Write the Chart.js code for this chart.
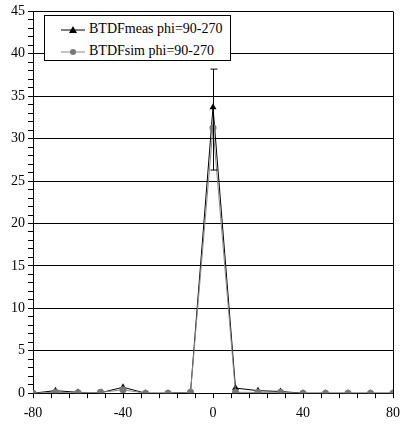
<!DOCTYPE html>
<html>
<head>
<meta charset="utf-8">
<script src="https://cdn.jsdelivr.net/npm/chart.js@4.4.0/dist/chart.umd.min.js"></script>
<style>
  body { margin: 0; background: #fff; }
  #wrap { position: relative; width: 401px; height: 427px; }
  #legend {
    position: absolute; left: 44px; top: 15px; width: 185px; height: 44px;
    background: #fff; border: 1px solid #000;
    font-family: "Liberation Serif", "Times New Roman", serif; font-size: 14px; color: #000;
  }
  #legend div { position: absolute; left: 16px; height: 16px; line-height: 16px; white-space: nowrap; }
  #legend svg { vertical-align: middle; margin-right: 4px; }
</style>
</head>
<body>
<div id="wrap">
  <canvas id="chart" width="401" height="427"></canvas>
  <div id="legend">
    <div style="top:5px"><svg width="24" height="10"><line x1="0" y1="5" x2="24" y2="5" stroke="#000" stroke-width="1"/><polygon points="12,1 16,8 8,8" fill="#000"/></svg>BTDFmeas phi=90-270</div>
    <div style="top:27px"><svg width="24" height="10"><line x1="0" y1="5" x2="24" y2="5" stroke="#888" stroke-width="1"/><circle cx="12" cy="5" r="3" fill="#777"/></svg>BTDFsim phi=90-270</div>
  </div>
</div>
<script>
// angles
var angles = [-80, -70, -60, -50, -40, -30, -20, -10, 0, 10, 20, 30, 40, 50, 60, 70, 80];
// BTDF measured / simulated
var measValues = [0, 0.3, 0.1, 0.05, 0.7, 0, 0, 0.1, 33.7, 0.6, 0.3, 0.2, 0, 0, 0, 0, 0];
var simValues = [0, 0.1, 0.05, 0.1, 0.4, 0, 0, 0.1, 31.3, 0.1, 0.1, 0.1, 0, 0, 0, 0, 0];
// error bar on the measured peak
var errAngle = [0];
var errLow = [26.3];
var errHigh = [38.2];

var serif = "'Liberation Serif', 'Times New Roman', serif";

function toXY(vals) {
  return angles.map(function (a, i) { return { x: a, y: vals[i] }; });
}

var errorBars = {
  id: 'errorBars',
  afterDatasetsDraw: function (chart) {
    var ctx = chart.ctx, xs = chart.scales.x, ys = chart.scales.y;
    ctx.save();
    ctx.strokeStyle = '#000';
    ctx.lineWidth = 1;
    for (var i = 0; i < errAngle.length; i++) {
      var px = Math.round(xs.getPixelForValue(errAngle[i])) + 0.5;
      var lo = ys.getPixelForValue(errLow[i]);
      var hi = ys.getPixelForValue(errHigh[i]);
      ctx.beginPath();
      ctx.moveTo(px, lo); ctx.lineTo(px, hi);
      ctx.moveTo(px - 3, hi); ctx.lineTo(px + 4, hi);
      ctx.moveTo(px - 3, lo); ctx.lineTo(px + 4, lo);
      ctx.stroke();
    }
    ctx.restore();
  }
};

var plotBorder = {
  id: 'plotBorder',
  beforeDatasetsDraw: function (chart) {
    var a = chart.chartArea, ctx = chart.ctx;
    ctx.save();
    ctx.strokeStyle = '#000';
    ctx.lineWidth = 1;
    ctx.beginPath();
    ctx.moveTo(Math.round(a.right) + 0.5, a.top);
    ctx.lineTo(Math.round(a.right) + 0.5, a.bottom);
    ctx.stroke();
    ctx.restore();
  }
};

new Chart(document.getElementById('chart'), {
  type: 'line',
  data: {
    datasets: [{
      label: 'BTDFsim phi=90-270',
      data: toXY(simValues),
      borderColor: '#888',
      backgroundColor: '#777',
      borderWidth: 1,
      pointStyle: 'circle',
      pointRadius: 3.5,
      pointBorderWidth: 0,
      fill: false
    }, {
      label: 'BTDFmeas phi=90-270',
      data: toXY(measValues),
      borderColor: '#000',
      backgroundColor: '#000',
      borderWidth: 1,
      pointStyle: 'triangle',
      pointRadius: 4,
      pointBorderWidth: 0,
      fill: false
    }]
  },
  options: {
    responsive: false,
    animation: false,
    layout: { padding: { left: 8, right: 8, top: 3, bottom: -2 } },
    plugins: { legend: { display: false }, tooltip: { enabled: false } },
    scales: {
      x: {
        type: 'linear',
        min: -80, max: 80,
        afterFit: function (s) { s.paddingRight = 0; },
        border: { color: '#000', width: 1 },
        grid: { drawOnChartArea: false, drawTicks: true, tickLength: 5, color: '#000' },
        ticks: {
          stepSize: 8, autoSkip: false, maxRotation: 0, padding: 7,
          color: '#000', font: { family: serif, size: 14 },
          callback: function (v) { return v % 40 === 0 ? String(v) : ''; }
        }
      },
      y: {
        min: 0, max: 45,
        border: { color: '#000', width: 1 },
        grid: {
          drawTicks: true, tickLength: 5,
          color: function (c) { return c.tick && c.tick.value % 5 === 0 ? '#000' : 'rgba(0,0,0,0)'; },
          tickColor: '#000'
        },
        ticks: {
          stepSize: 1, autoSkip: false, padding: 3,
          color: '#000', font: { family: serif, size: 14 },
          callback: function (v) { return v % 5 === 0 ? String(v) : ''; }
        }
      }
    }
  },
  plugins: [plotBorder, errorBars]
});
</script>
</body>
</html>
